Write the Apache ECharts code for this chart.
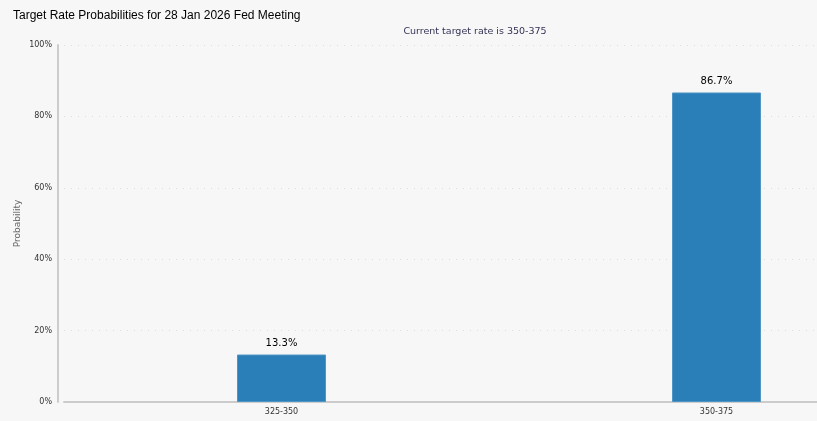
<!DOCTYPE html>
<html>
<head>
<meta charset="utf-8">
<script src="https://cdn.jsdelivr.net/npm/echarts@6/dist/echarts.min.js"></script>
<style>
  html, body { margin: 0; padding: 0; background: #f7f7f7; }
  #chart { width: 817px; height: 421px; }
</style>
</head>
<body>
<div id="chart"></div>
<script>
var categories = ["325-350", "350-375"];
var probabilities = [13.3, 86.7];
var yTicks = [0, 20, 40, 60, 80, 100];

var myChart = echarts.init(document.getElementById("chart"));
myChart.setOption({
  backgroundColor: "#f7f7f7",
  animation: false,
  title: [
    {
      text: "Target Rate Probabilities for 28 Jan 2026 Fed Meeting",
      left: 8,
      top: 5,
      textStyle: { fontFamily: "Liberation Sans", fontSize: 12, fontWeight: "normal", color: "#000" }
    },
    {
      text: "Current target rate is 350-375",
      left: 470,
      top: 22,
      textAlign: "center",
      textStyle: { fontFamily: "DejaVu Sans", fontSize: 9.5, fontWeight: "normal", color: "#333355" }
    }
  ],
  // plot is wider than the window, like the cropped original
  grid: { left: 64, top: 45, width: 870, height: 357, outerBoundsMode: "none" },
  xAxis: {
    type: "category",
    data: categories,
    axisLine: { lineStyle: { color: "#cccccc", width: 2 } },
    axisTick: { alignWithLabel: true, length: 4, lineStyle: { color: "#cccccc" } },
    axisLabel: { fontFamily: "DejaVu Sans", fontSize: 8, color: "#333", margin: 6 }
  },
  yAxis: {
    type: "value",
    min: yTicks[0],
    max: yTicks[yTicks.length - 1],
    interval: 20,
    offset: 6,
    name: "Probability",
    nameLocation: "middle",
    nameGap: 36,
    nameMoveOverlap: false,
    nameTextStyle: { fontFamily: "DejaVu Sans", fontSize: 9, color: "#666" },
    axisLine: { show: true, lineStyle: { color: "#cccccc", width: 2 } },
    axisTick: { show: false },
    axisLabel: { formatter: "{value}%", fontFamily: "DejaVu Sans", fontSize: 8, color: "#333", margin: 6 },
    splitLine: { lineStyle: { color: "#dddddd", type: [1, 6], width: 1 } }
  },
  series: [
    {
      type: "bar",
      data: probabilities,
      barWidth: 89,
      itemStyle: { color: "#2a7fb8", borderColor: "#4f95c6", borderWidth: 1 },
      label: {
        show: true,
        position: "top",
        distance: 6,
        formatter: "{c}%",
        fontFamily: "DejaVu Sans",
        fontSize: 10,
        color: "#000"
      }
    }
  ]
});
</script>
</body>
</html>
